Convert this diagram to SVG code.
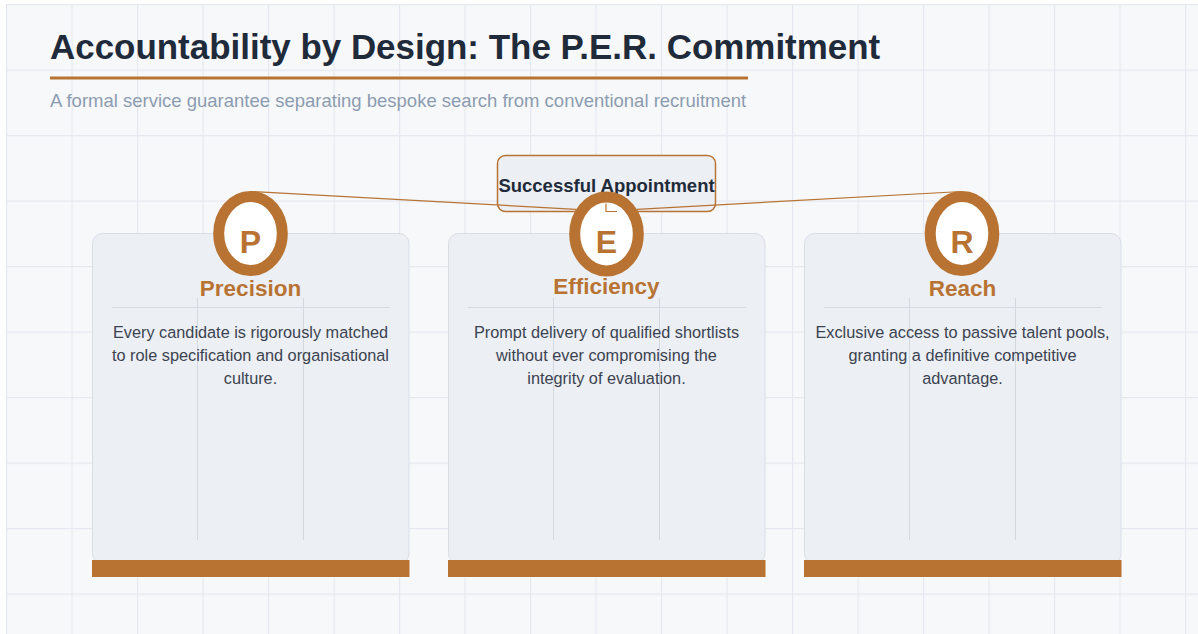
<svg xmlns="http://www.w3.org/2000/svg" width="1198" height="634" viewBox="0 0 1198 634">
  <defs>
    <pattern id="grid" patternUnits="userSpaceOnUse" x="6" y="4" width="65.5" height="65.5">
      <path d="M0.6 0 V65.5 M0 0.6 H65.5" fill="none" stroke="#e5e8ee" stroke-width="1.2"/>
    </pattern>
    <style>
      .title { font-family: "Liberation Sans", Arial, sans-serif; font-weight: bold; font-size: 34.95px; fill: #1f2b3a; }
      .subtitle { font-family: "Liberation Sans", Arial, sans-serif; font-size: 18.5px; fill: #8c9cb0; }
      .card { fill: #eceff4; stroke: #d9dee6; stroke-width: 1; }
      .bar { fill: #b87333; }
      .rule { stroke: #d6dbe3; stroke-width: 1; }
      .col { stroke: #d3d9e1; stroke-width: 1; }
      .ring { fill: #ffffff; stroke: #b87333; stroke-width: 11; }
      .letter { font-family: "Liberation Sans", Arial, sans-serif; font-weight: bold; font-size: 32px; fill: #b87333; text-anchor: middle; }
      .label { font-family: "Liberation Sans", Arial, sans-serif; font-weight: bold; font-size: 22.5px; fill: #b87333; text-anchor: middle; }
      .body { font-family: "Liberation Sans", Arial, sans-serif; font-size: 16.3px; fill: #3b4350; text-anchor: middle; }
      .goal { fill: #eceff4; stroke: #b87333; stroke-width: 1.5; }
      .goal-text { font-family: "Liberation Sans", Arial, sans-serif; font-weight: bold; font-size: 18.5px; fill: #1f2b3a; text-anchor: middle; }
      .link { fill: none; stroke: #b87333; stroke-width: 1.2; }
    </style>
  </defs>

  <!-- page background with grid -->
  <rect x="0" y="0" width="1198" height="634" fill="#ffffff"/>
  <rect x="6" y="4" width="1192" height="630" fill="#f7f8fa"/>
  <rect x="6" y="4" width="1192" height="630" fill="url(#grid)"/>

  <!-- heading -->
  <g id="header">
    <text class="title" x="50" y="59">Accountability by Design: The P.E.R. Commitment</text>
    <rect x="50" y="76.5" width="698" height="3" fill="#b87333"/>
    <text class="subtitle" x="50" y="106.5">A formal service guarantee separating bespoke search from conventional recruitment</text>
  </g>

  <!-- pillar cards -->
  <g id="card-precision">
    <rect class="card" x="92.5" y="233.5" width="316.5" height="330" rx="10"/>
    <rect class="bar" x="92" y="560" width="317.5" height="17"/>
    <line class="col" x1="197.5" y1="298" x2="197.5" y2="540"/>
    <line class="col" x1="303.5" y1="298" x2="303.5" y2="540"/>
    <line class="rule" x1="112" y1="307.5" x2="390" y2="307.5"/>
    <text class="label" x="250.5" y="296">Precision</text>
    <text class="body" x="250.5" y="337.5">Every candidate is rigorously matched</text>
    <text class="body" x="250.5" y="360.5">to role specification and organisational</text>
    <text class="body" x="250.5" y="383.5">culture.</text>
  </g>

  <g id="card-efficiency">
    <rect class="card" x="448.5" y="233.5" width="316.5" height="330" rx="10"/>
    <rect class="bar" x="448" y="560" width="317.5" height="17"/>
    <line class="col" x1="553.5" y1="298" x2="553.5" y2="540"/>
    <line class="col" x1="659.5" y1="298" x2="659.5" y2="540"/>
    <line class="rule" x1="468" y1="307.5" x2="746" y2="307.5"/>
    <text class="label" x="606.5" y="293.5">Efficiency</text>
    <text class="body" x="606.5" y="337.5">Prompt delivery of qualified shortlists</text>
    <text class="body" x="606.5" y="360.5">without ever compromising the</text>
    <text class="body" x="606.5" y="383.5">integrity of evaluation.</text>
  </g>

  <g id="card-reach">
    <rect class="card" x="804.5" y="233.5" width="316.5" height="330" rx="10"/>
    <rect class="bar" x="804" y="560" width="317.5" height="17"/>
    <line class="col" x1="909.5" y1="298" x2="909.5" y2="540"/>
    <line class="col" x1="1015.5" y1="298" x2="1015.5" y2="540"/>
    <line class="rule" x1="824" y1="307.5" x2="1102" y2="307.5"/>
    <text class="label" x="962.5" y="296">Reach</text>
    <text class="body" x="962.5" y="337.5">Exclusive access to passive talent pools,</text>
    <text class="body" x="962.5" y="360.5">granting a definitive competitive</text>
    <text class="body" x="962.5" y="383.5">advantage.</text>
  </g>

  <!-- shared outcome -->
  <g id="goal">
    <rect class="goal" x="497.5" y="155.5" width="218" height="56" rx="8"/>
    <text class="goal-text" x="606.5" y="191.5">Successful Appointment</text>
  </g>

  <!-- pillar badges -->
  <g id="badge-p">
    <ellipse class="ring" cx="250.5" cy="233.5" rx="31.8" ry="37"/>
    <text class="letter" x="250.5" y="252.5">P</text>
  </g>
  <g id="badge-e">
    <ellipse class="ring" cx="606.5" cy="234" rx="31.8" ry="37"/>
    <text class="letter" x="606.5" y="253">E</text>
  </g>
  <g id="badge-r">
    <ellipse class="ring" cx="962" cy="233.5" rx="31.8" ry="37"/>
    <text class="letter" x="962" y="252.5">R</text>
  </g>

  <!-- connectors from each badge to the outcome -->
  <g id="connectors">
    <line class="link" x1="251" y1="191.5" x2="576" y2="209.3"/>
    <line class="link" x1="962" y1="191.5" x2="637" y2="209.3"/>
    <path class="link" d="M606 203.5 V211.5 H617"/>
  </g>
</svg>
